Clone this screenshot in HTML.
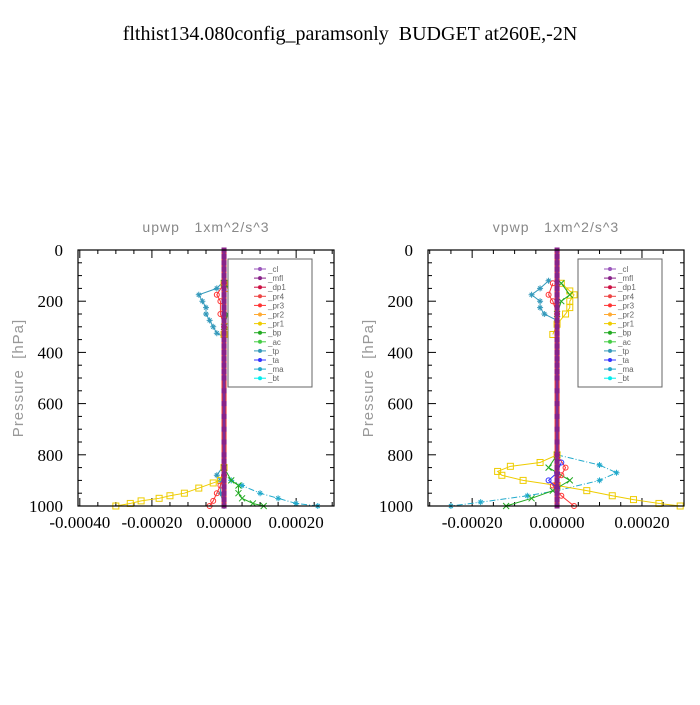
<!DOCTYPE html>
<html><head><meta charset="utf-8"><style>
body{margin:0;background:#fff}
svg text{font-family:"Liberation Serif",serif;white-space:pre}
</style></head><body>
<svg id="c" width="700" height="700" xmlns="http://www.w3.org/2000/svg">
<rect width="700" height="700" fill="#fff"/>
<text x="350" y="40" font-size="20" text-anchor="middle" xml:space="preserve">flthist134.080config_paramsonly  BUDGET at260E,-2N</text>
</svg>
<script>
// ---- data ----
const yTicks=[0,200,400,600,800,1000];
const leftXTicks=[-0.0004,-0.0002,0,0.0002];
const rightXTicks=[-0.0002,0,0.0002];
const legendNames=["_cl","_mfl","_dp1","_pr4","_pr3","_pr2","_pr1","_bp","_ac","_tp","_ta","_ma","_bt"];
const zeroLevels=[0,25,50,75,100,125,150,175,200,225,250,275,300,325,350,375,400,425,450,475,500,550,600,650,700,750,800,825,850,875,900,925,950,975,1000];
// left panel series (pressure, value)
const L_tp_p=[120,150,175,200,225,250,275,300,325,340,840,880,900,950,1000];
const L_tp_v=[0,-0.00002,-0.00007,-0.00006,-0.00005,-0.00005,-0.00004,-0.00003,-0.00002,0,0,-0.00002,-0.00001,-0.00001,0];
const L_ma_p=[860,880,900,920,950,970,990,1000];
const L_ma_v=[0,0,0.00002,0.00005,0.0001,0.00015,0.0002,0.00026];
const L_pr1_p=[130,150,175,190,200,225,250,275,300,330,850,900,910,930,950,960,970,980,990,1000];
const L_pr1_v=[0,0.00001,0.00003,0.00004,0.00004,0.00003,0.00003,0.00002,0.00001,0,0,-0.00001,-0.00003,-0.00007,-0.00011,-0.00015,-0.00018,-0.00023,-0.00026,-0.0003];
const L_bp_p=[130,175,200,250,300,850,900,920,950,970,990,1000];
const L_bp_v=[0,0.00003,0.00002,0.00001,0,0,0.00002,0.00004,0.00004,0.00005,0.00008,0.00011];
const L_pr3_p=[130,175,200,250,300,880,920,950,980,1000];
const L_pr3_v=[0,-0.00002,-0.00001,-0.00001,0,0,-0.00001,-0.00002,-0.00003,-0.00004];
// right panel series
const R_tp_p=[120,150,175,200,225,250,275];
const R_tp_v=[-0.00002,-0.00004,-0.00006,-0.00004,-0.00004,-0.00003,0];
const R_ma_p=[800,840,870,900,940,960,985,1000];
const R_ma_v=[0,0.0001,0.00014,0.0001,0,-0.00007,-0.00018,-0.00025];
const R_pr1_p=[130,160,175,200,225,250,290,330,800,830,845,865,880,900,920,940,960,975,990,1000];
const R_pr1_v=[0.00001,0.00003,0.00004,0.00003,0.00003,0.00002,0,-0.00001,0,-0.00004,-0.00011,-0.00014,-0.00013,-0.00008,0,0.00007,0.00013,0.00018,0.00024,0.00029];
const R_bp_p=[130,175,200,250,800,850,900,940,970,1000];
const R_bp_v=[0.00001,0.00003,0.00001,0,0,-0.00002,0.00003,-0.00001,-0.00006,-0.00012];
const R_pr3_p=[130,175,200,250,800,850,880,920,960,1000];
const R_pr3_v=[-0.00001,-0.00002,-0.00001,0,0,0.00002,0.00001,-0.00001,0.00001,0.00004];
const R_ta_p=[830,870,900,930];
const R_ta_v=[0.00001,0,-0.00002,0];

const NS="http://www.w3.org/2000/svg";
const svg=document.getElementById('c');
function mk(t,a,parent){const e=document.createElementNS(NS,t);for(const k in a)e.setAttribute(k,a[k]);(parent||svg).appendChild(e);return e;}
const colors={"_cl":"#9955bb","_mfl":"#882288","_dp1":"#cc1144","_pr4":"#ee4444","_pr3":"#ff3333","_pr2":"#ffaa33","_pr1":"#eecc00","_bp":"#22aa22","_ac":"#44cc44","_tp":"#3399bb","_ta":"#3333ff","_ma":"#22aacc","_bt":"#00eeee"};

function panel(id,x0,x1,xmin,xmax,xticks,minorStep,title,series){
  const y0=250,y1=506;
  const g=mk('g',{});
  
  
  const sx=v=>x0+(v-xmin)/(xmax-xmin)*(x1-x0);
  const sy=p=>y0+p/1000*(y1-y0);
  const t=mk('text',{x:(x0+x1)/2,y:232,'font-size':14,fill:'#888','text-anchor':'middle','letter-spacing':'1'},g);
  t.textContent=title;t.style.fontFamily='"Liberation Sans",sans-serif';
  
  
  const yl=mk('text',{x:0,y:0,'font-size':15,fill:'#999','text-anchor':'middle','letter-spacing':'1',transform:`translate(${x0-55},${(y0+y1)/2}) rotate(-90)`},g);
  yl.textContent='Pressure  [hPa]';yl.style.fontFamily='"Liberation Sans",sans-serif';
  
  
  for(let p=0;p<=1000;p+=50){const maj=p%200===0;const L=maj?8:4;
    mk('line',{x1:x0,x2:x0+L,y1:sy(p),y2:sy(p),stroke:'#000'},g);mk('line',{x1:x1,x2:x1-L,y1:sy(p),y2:sy(p),stroke:'#000'},g);}
  yTicks.forEach(p=>{const tt=mk('text',{x:x0-15,y:sy(p)+6,'font-size':17,'text-anchor':'end'},g);tt.textContent=p;
    
    });
  for(let v=Math.ceil(xmin/minorStep)*minorStep;v<=xmax+1e-12;v+=minorStep){
    const maj=xticks.some(q=>Math.abs(q-v)<1e-10);const L=maj?8:4;
    mk('line',{x1:sx(v),x2:sx(v),y1:y1,y2:y1-L,stroke:'#000'},g);mk('line',{x1:sx(v),x2:sx(v),y1:y0,y2:y0+L,stroke:'#000'},g);}
  xticks.forEach(v=>{const tt=mk('text',{x:sx(v),y:y1+22,'font-size':17,'text-anchor':'middle'},g);tt.textContent=v.toFixed(5);
    
    });
  series.forEach(s=>{
    const c=colors[s.n];const sg=mk('g',{},g);
    
    
    let seg=[];const segs=[];
    s.p.forEach((p,i)=>{if(i>0&&p-s.p[i-1]>200){segs.push(seg);seg=[];}seg.push([sx(s.v[i]),sy(p)]);});segs.push(seg);
    segs.forEach(sg2=>mk('polyline',{points:sg2.map(q=>q.join(',')).join(' '),fill:'none',stroke:c,'stroke-width':1,'stroke-dasharray':s.n==='_ma'?'6,2,1,2':'none'},sg));
    s.p.forEach((p,i)=>{const X=sx(s.v[i]),Y=sy(p);
      if(s.n==='_pr1')mk('rect',{x:X-3,y:Y-3,width:6,height:6,fill:'none',stroke:c},sg);
      else if(s.n==='_bp')mk('path',{d:`M${X-3},${Y-3}L${X+3},${Y+3}M${X-3},${Y+3}L${X+3},${Y-3}`,stroke:c},sg);
      else if(s.n==='_tp'||s.n==='_ma')mk('path',{d:`M${X-3},${Y}L${X+3},${Y}M${X},${Y-3}L${X},${Y+3}M${X-2},${Y-2}L${X+2},${Y+2}M${X-2},${Y+2}L${X+2},${Y-2}`,stroke:c},sg);
      else mk('circle',{cx:X,cy:Y,r:2.5,fill:'none',stroke:c},sg);});
  });
  const zg=mk('g',{},g);
  
  
  mk('line',{x1:sx(0),x2:sx(0),y1:y0,y2:y1,stroke:'#ee3333','stroke-width':5},zg);
  mk('line',{x1:sx(0),x2:sx(0),y1:y0,y2:y1,stroke:'#7a2f99','stroke-width':3},zg);
  zeroLevels.forEach(p=>mk('rect',{x:sx(0)-2.5,y:sy(p)-2.5,width:5,height:5,fill:'#882288'},zg));
  mk('rect',{x:x0,y:y0,width:x1-x0,height:y1-y0,fill:'none',stroke:'#000','stroke-width':1.2},g);
  const lx=x0+(228-78),ly=259;
  const lg=mk('g',{},g);
  
  
  mk('rect',{x:lx,y:ly,width:84,height:128,fill:'#fff',stroke:'#666'},lg);
  legendNames.forEach((n,i)=>{const Y=ly+10+i*9.1;
    const e=mk('g',{},lg);
    
    
    mk('line',{x1:lx+26,x2:lx+38,y1:Y,y2:Y,stroke:colors[n]},e);
    mk('circle',{cx:lx+32,cy:Y,r:2,fill:colors[n]},e);
    const tt=mk('text',{x:lx+40,y:Y+3,'font-size':8,fill:'#666'},e);tt.textContent=n;tt.style.fontFamily='"Liberation Sans",sans-serif';});
}
panel('upwp',78,334,-0.000405,0.000305,leftXTicks,0.00005,'upwp   1xm^2/s^3',[
 {n:'_tp',p:L_tp_p,v:L_tp_v},{n:'_ma',p:L_ma_p,v:L_ma_v},{n:'_pr1',p:L_pr1_p,v:L_pr1_v},{n:'_bp',p:L_bp_p,v:L_bp_v},{n:'_pr3',p:L_pr3_p,v:L_pr3_v}]);
panel('vpwp',428,684,-0.000304,0.000299,rightXTicks,0.00005,'vpwp   1xm^2/s^3',[
 {n:'_tp',p:R_tp_p,v:R_tp_v},{n:'_ma',p:R_ma_p,v:R_ma_v},{n:'_pr1',p:R_pr1_p,v:R_pr1_v},{n:'_bp',p:R_bp_p,v:R_bp_v},{n:'_pr3',p:R_pr3_p,v:R_pr3_v},{n:'_ta',p:R_ta_p,v:R_ta_v}]);
</script>
</body></html>
